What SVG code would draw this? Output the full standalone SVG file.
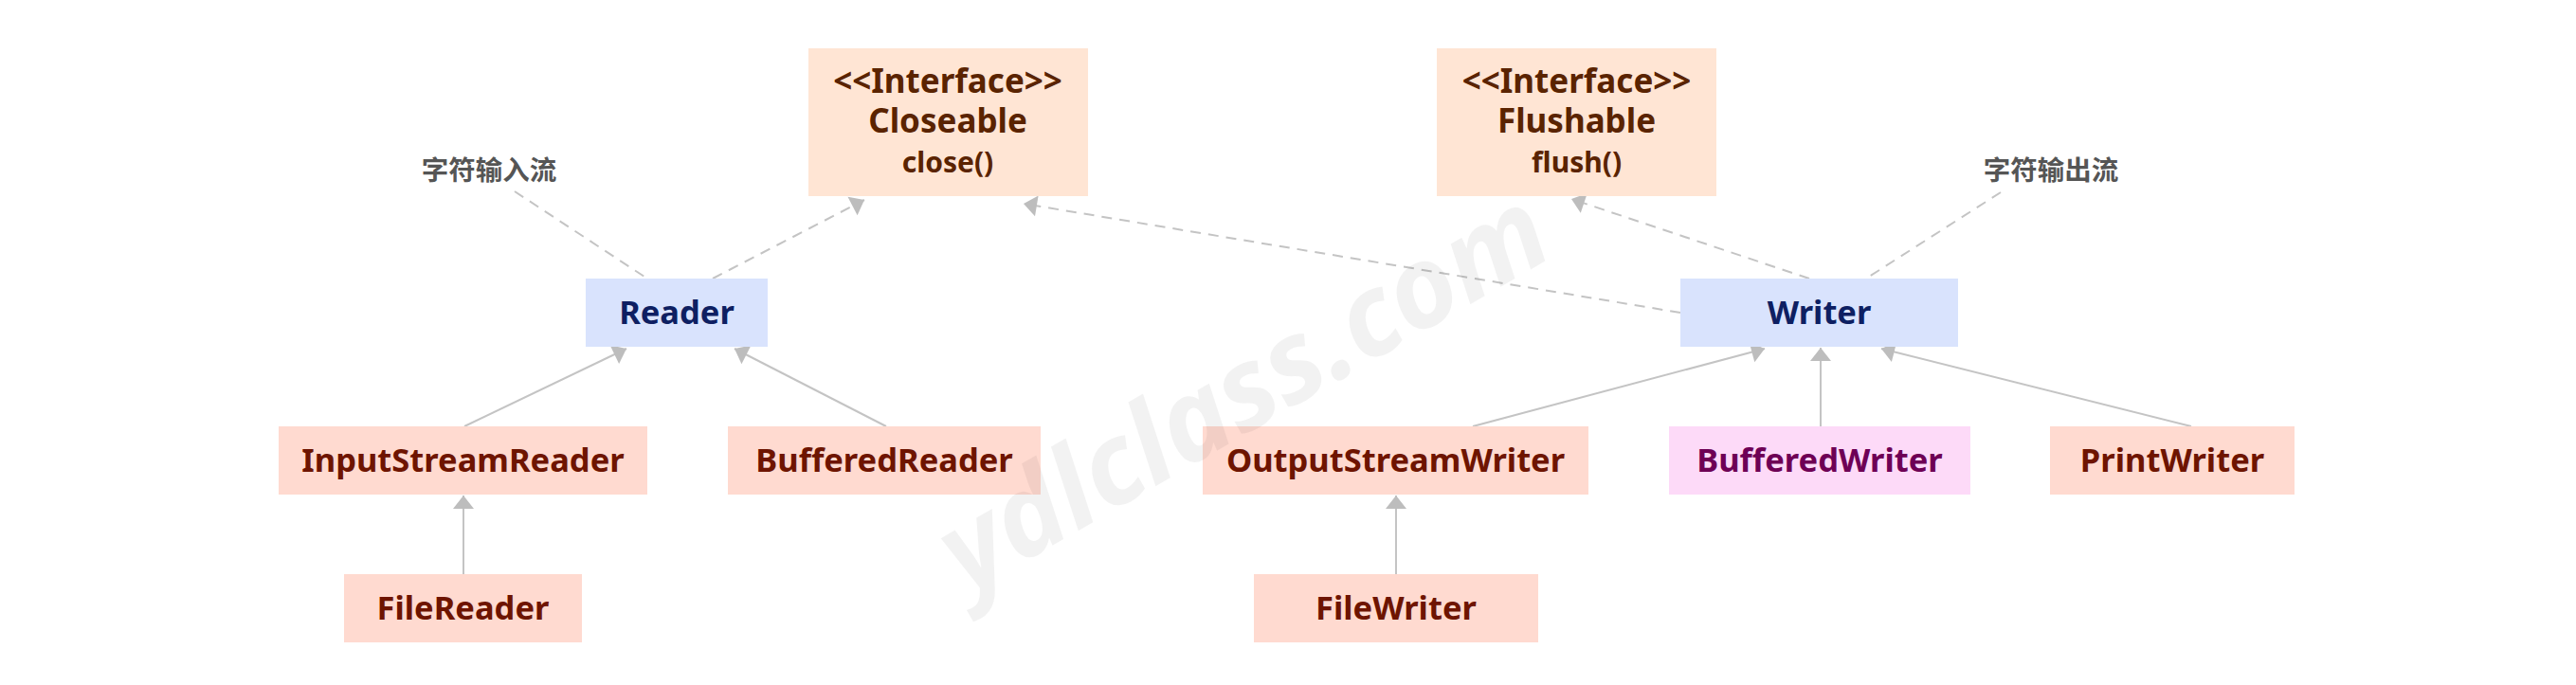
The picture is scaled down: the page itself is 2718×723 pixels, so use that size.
<svg xmlns="http://www.w3.org/2000/svg" width="2718" height="723" viewBox="0 0 2718 723">
<defs>
<style>
text{font-family:"Noto Sans","Open Sans","Liberation Sans",sans-serif;font-weight:bold;text-anchor:middle}
.iface rect{fill:#FFE5D4}
.iface text{fill:#5A2300}
.iface .h{font-size:35px}
.iface .m{font-size:30px}
.base rect{fill:#D9E3FD}
.base text{fill:#0E1F62;font-size:34.5px}
.cls rect{fill:#FFDAD0}
.cls text{fill:#6E1400;font-size:34.5px}
.pink rect{fill:#FDDAF8}
.pink text{fill:#6E0055;font-size:34.5px}
.lbl{font-family:"Noto Sans CJK SC","Noto Sans",sans-serif;font-size:28.5px;fill:#555555}
.dash{stroke:#C4C4C4;stroke-width:2;stroke-dasharray:11 8;fill:none}
.solid{stroke:#C4C4C4;stroke-width:2;fill:none}
.wm{font-size:120px;font-style:italic;fill:#000;fill-opacity:0.05}
</style>
<marker id="arr" markerUnits="userSpaceOnUse" markerWidth="16" markerHeight="24" viewBox="-15 -12 16 24" refX="0" refY="0" orient="auto">
<path d="M0,0 L-14,-11 L-14,11 Z" fill="#BDBDBD"/>
</marker>
</defs>
<rect width="2718" height="723" fill="#FFFFFF"/>

<g id="connectors">
<line class="dash" x1="543" y1="202" x2="683" y2="294"/>
<line class="dash" x1="2111" y1="203" x2="1969" y2="294"/>
<line class="dash" x1="752" y1="294" x2="912" y2="211" marker-end="url(#arr)"/>
<line class="dash" x1="1773" y1="330" x2="1080" y2="215" marker-end="url(#arr)"/>
<line class="dash" x1="1909" y1="294" x2="1658" y2="210" marker-end="url(#arr)"/>
<line class="solid" x1="490" y1="450" x2="661" y2="368" marker-end="url(#arr)"/>
<line class="solid" x1="935" y1="450" x2="775" y2="368" marker-end="url(#arr)"/>
<line class="solid" x1="489" y1="606" x2="489" y2="523" marker-end="url(#arr)"/>
<line class="solid" x1="1554" y1="450" x2="1862" y2="368" marker-end="url(#arr)"/>
<line class="solid" x1="1921" y1="450" x2="1921" y2="367" marker-end="url(#arr)"/>
<line class="solid" x1="2312" y1="450" x2="1985" y2="368" marker-end="url(#arr)"/>
<line class="solid" x1="1473" y1="606" x2="1473" y2="523" marker-end="url(#arr)"/>
</g>

<g id="label-reader"><text class="lbl" x="516" y="190">字符输入流</text></g>
<g id="label-writer"><text class="lbl" x="2164" y="190">字符输出流</text></g>

<g id="Closeable" class="iface">
<rect x="853" y="51" width="295" height="156"/>
<text class="h" x="1000" y="98">&lt;&lt;Interface&gt;&gt;</text>
<text class="h" x="1000" y="140">Closeable</text>
<text class="m" x="1000" y="182">close()</text>
</g>
<g id="Flushable" class="iface">
<rect x="1516" y="51" width="295" height="156"/>
<text class="h" x="1663.5" y="98">&lt;&lt;Interface&gt;&gt;</text>
<text class="h" x="1663.5" y="140">Flushable</text>
<text class="m" x="1663.5" y="182">flush()</text>
</g>
<g id="Reader" class="base">
<rect x="618" y="294" width="192" height="72"/>
<text x="714" y="342">Reader</text>
</g>
<g id="Writer" class="base">
<rect x="1773" y="294" width="293" height="72"/>
<text x="1919.5" y="342">Writer</text>
</g>
<g id="InputStreamReader" class="cls">
<rect x="294" y="450" width="389" height="72"/>
<text x="488.5" y="498">InputStreamReader</text>
</g>
<g id="BufferedReader" class="cls">
<rect x="768" y="450" width="330" height="72"/>
<text x="933" y="498">BufferedReader</text>
</g>
<g id="FileReader" class="cls">
<rect x="363" y="606" width="251" height="72"/>
<text x="488.5" y="654">FileReader</text>
</g>
<g id="OutputStreamWriter" class="cls">
<rect x="1269" y="450" width="407" height="72"/>
<text x="1472.5" y="498">OutputStreamWriter</text>
</g>
<g id="BufferedWriter" class="pink">
<rect x="1761" y="450" width="318" height="72"/>
<text x="1920" y="498">BufferedWriter</text>
</g>
<g id="PrintWriter" class="cls">
<rect x="2163" y="450" width="258" height="72"/>
<text x="2292" y="498">PrintWriter</text>
</g>
<g id="FileWriter" class="cls">
<rect x="1323" y="606" width="300" height="72"/>
<text x="1473" y="654">FileWriter</text>
</g>

<g id="watermark"><text class="wm" transform="translate(1332,448) rotate(-30)">ydlclass.com</text></g>
</svg>
